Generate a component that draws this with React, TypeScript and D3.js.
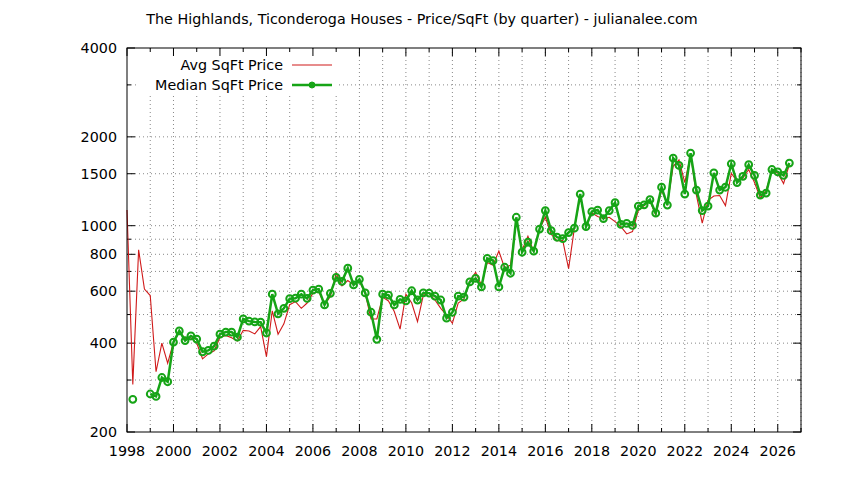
import { useMemo } from "react"
import * as d3 from "d3"

// quarterly series, first value = 1998 Q1
const startYear = 1998

const avgPrice: number[] = [
  1130, 290, 828, 610, 580, 320, 400, 342, 403, 437, 415, 417,
  400, 354, 368, 377, 418, 425, 417, 407, 442, 440, 430, 455,
  360, 515, 429, 465, 540, 553, 525, 547, 590, 597, 540, 575,
  690, 625, 652, 630, 648, 590, 483, 483, 573, 556, 512, 446,
  586, 547, 473, 582, 590, 560, 525, 498, 467, 547, 565, 650,
  695, 630, 750, 735, 821, 718, 735, 1040, 828, 921, 818, 974,
  1068, 935, 890, 890, 715, 981, 1260, 1000, 1105, 1075, 1057, 1068,
  1032, 993, 938, 955, 1125, 1170, 1215, 1085, 1320, 1180, 1590, 1670,
  1400, 1740, 1270, 1020, 1220, 1260, 1265, 1170, 1505, 1415, 1450, 1550,
  1400, 1240, 1320, 1530, 1510, 1390, 1610,
]

const medianPrice: (number | null)[] = [
  null, 258, null, null, 269, 264, 306, 296, 403, 440, 408, 423,
  413, 374, 378, 391, 429, 436, 436, 419, 483, 475, 472, 471,
  433, 586, 503, 525, 566, 568, 586, 567, 605, 610, 539, 590,
  668, 648, 718, 630, 658, 592, 509, 412, 586, 582, 539, 563,
  556, 602, 560, 592, 591, 577, 560, 486, 509, 577, 573, 645,
  663, 620, 775, 762, 620, 723, 690, 1068, 813, 879, 820, 974,
  1125, 962, 914, 904, 948, 981, 1280, 993, 1116, 1130, 1057, 1125,
  1197, 1011, 1018, 1002, 1165, 1177, 1225, 1103, 1350, 1175, 1695, 1600,
  1280, 1762, 1320, 1125, 1165, 1510, 1320, 1350, 1620, 1400, 1470, 1610,
  1480, 1270, 1290, 1550, 1522, 1480, 1630,
]

const yTicks = [200, 300, 400, 500, 600, 700, 800, 900, 1000, 1500, 2000, 3000, 4000]
const yLabeled = [200, 400, 600, 800, 1000, 1500, 2000, 4000]
const xYears = d3.range(1998, 2028)

const title = "The Highlands, Ticonderoga Houses - Price/SqFt (by quarter) - julianalee.com"
const seriesNames = ["Avg SqFt Price", "Median SqFt Price"]

const W = 844, H = 480
const L = 127, R = 801, T = 48, B = 432
const RED = "#d01a1a"
const GREEN = "#16a416"
const FONT = "DejaVu Sans, sans-serif"
const FS = 14.3

export default function App() {
  const x = useMemo(() => d3.scaleLinear().domain([1998, 2027]).range([L, R]), [])
  const y = useMemo(() => d3.scaleLog().domain([200, 4000]).range([B, T]), [])

  const qx = (i: number) => x(startYear + i / 4)
  const avgLine = d3.line<number>().x((_, i) => qx(i)).y(d => y(d))(avgPrice) || ""
  const medLine = d3.line<number | null>()
    .defined(d => d != null)
    .x((_, i) => qx(i))
    .y(d => y(d as number))(medianPrice) || ""

  return (
    <div style={{ position: "absolute", left: 0, top: 0 }}>
      <svg width={W} height={H} style={{ display: "block", background: "#fff" }} fontFamily={FONT}>
        {/* grid */}
        <g stroke="#888" strokeWidth={1} strokeDasharray="1,3">
          {xYears.slice(1).map(yr => (
            <line key={"gx" + yr} x1={x(yr)} x2={x(yr)} y1={T} y2={B} />
          ))}
          {yTicks.slice(1, -1).map(v => (
            <line key={"gy" + v} x1={L} x2={R} y1={y(v)} y2={y(v)} />
          ))}
        </g>

        {/* opaque key box */}
        <rect x={136} y={T + 1} width={202} height={46} fill="#fff" />

        {/* ticks */}
        <g stroke="#000" strokeWidth={1}>
          {xYears.map(yr => {
            const len = yr % 2 === 0 ? 8 : 4
            const px = x(yr)
            return (
              <g key={"tx" + yr}>
                <line x1={px} x2={px} y1={B} y2={B - len} />
                <line x1={px} x2={px} y1={T} y2={T + len} />
              </g>
            )
          })}
          {yTicks.map(v => {
            const len = yLabeled.includes(v) ? 8 : 4
            const py = y(v)
            return (
              <g key={"ty" + v}>
                <line x1={L} x2={L + len} y1={py} y2={py} />
                <line x1={R} x2={R - len} y1={py} y2={py} />
              </g>
            )
          })}
        </g>

        {/* data */}
        <path d={avgLine} fill="none" stroke={RED} strokeWidth={1.1} />
        <path d={medLine} fill="none" stroke={GREEN} strokeWidth={2.5} />
        {medianPrice.map((v, i) =>
          v == null ? null : (
            <circle key={"p" + i} cx={qx(i)} cy={y(v)} r={3.4} fill="none" stroke={GREEN} strokeWidth={2} />
          )
        )}

        {/* border */}
        <rect x={L} y={T} width={R - L} height={B - T} fill="none" stroke="#000" strokeWidth={1} />

        {/* tick labels */}
        <g fontSize={FS} fill="#000">
          {yLabeled.map(v => (
            <text key={"ly" + v} x={L - 10} y={y(v)} dy="0.36em" textAnchor="end">{v}</text>
          ))}
          {xYears.filter(yr => yr % 2 === 0).map(yr => (
            <text key={"lx" + yr} x={x(yr)} y={456} textAnchor="middle">{yr}</text>
          ))}
        </g>

        {/* legend */}
        <g fontSize={FS}>
          <text x={283} y={65} dy="0.36em" textAnchor="end">{seriesNames[0]}</text>
          <line x1={292} x2={332} y1={65} y2={65} stroke={RED} strokeWidth={1.1} />
          <text x={283} y={85} dy="0.36em" textAnchor="end">{seriesNames[1]}</text>
          <line x1={292} x2={332} y1={85} y2={85} stroke={GREEN} strokeWidth={2.5} />
          <circle cx={312} cy={85} r={3} fill={GREEN} stroke={GREEN} strokeWidth={1} />
        </g>

        <text x={422} y={24} fontSize={FS} textAnchor="middle">{title}</text>
      </svg>
    </div>
  )
}
